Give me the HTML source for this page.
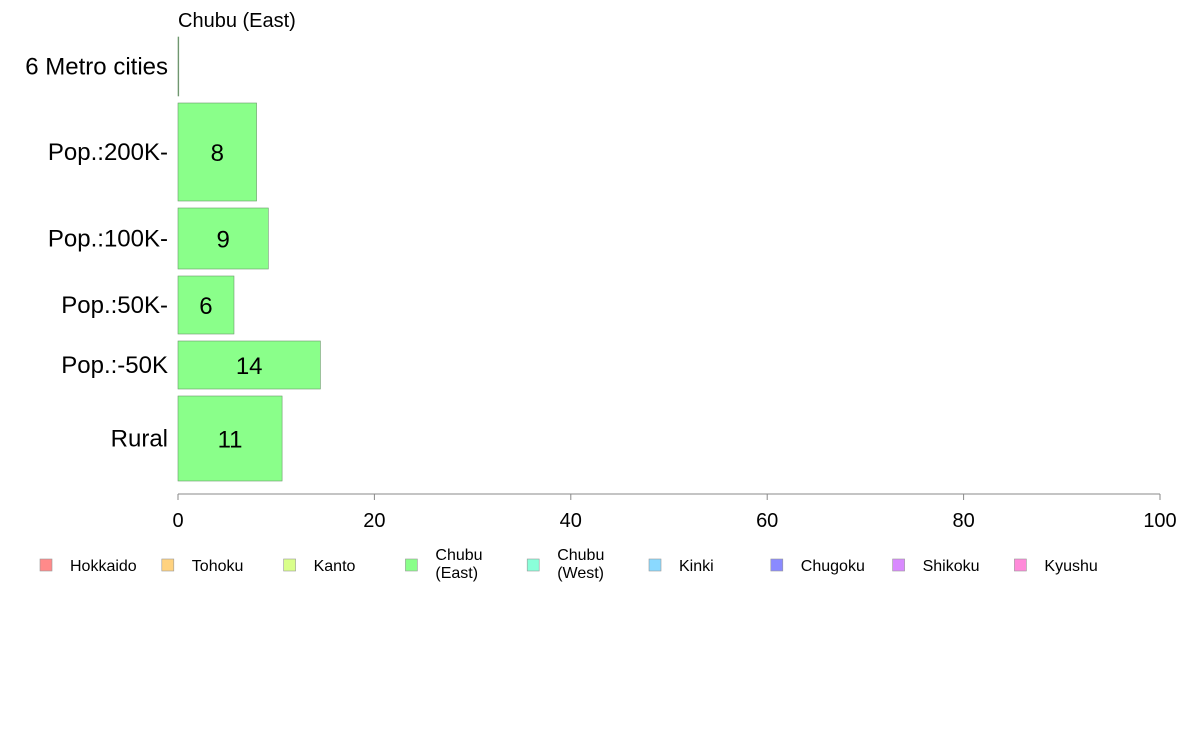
<!DOCTYPE html>
<html><head><meta charset="utf-8"><style>
html,body{margin:0;padding:0;background:#fff;}
svg{display:block;font-family:"Liberation Sans",Arial,sans-serif;}
</style></head><body>
<svg id="chart" width="1188" height="736" viewBox="0 0 1188 736">
<text x="178" y="27" font-size="20" fill="#000">Chubu (East)</text>
<g id="bars"></g>
<g id="axis"></g>
<g id="legend"></g>
</svg>
<script>
const categories = ["6 Metro cities","Pop.:200K-","Pop.:100K-","Pop.:50K-","Pop.:-50K","Rural"];
const values = [0, 8.0, 9.2, 5.7, 14.5, 10.6];
const labels = ["", "8", "9", "6", "14", "11"];
const weights = [59, 98, 61, 58, 48, 85];
const ticks = [0,20,40,60,80,100];
const regions = ["Hokkaido","Tohoku","Kanto","Chubu\n(East)","Chubu\n(West)","Kinki","Chugoku","Shikoku","Kyushu"];
const regionColors = ["#ff8a8a","#ffd27f","#d9ff8a","#8aff8a","#8affd9","#8ad9ff","#8a8aff","#d98aff","#ff8ad9"];

const NS="http://www.w3.org/2000/svg";
function mk(t,a,p){const e=document.createElementNS(NS,t);for(const k in a)e.setAttribute(k,a[k]);p.appendChild(e);return e;}
const x0=178,x1=1160,yTop=37,gap=7;
const xs=v=>x0+(v/100)*(x1-x0);
const bars=document.getElementById('bars');
let y=yTop;
categories.forEach((c,i)=>{
  const h=weights[i];
  const w=xs(values[i])-x0;
  const r=mk('rect',{x:x0,y:y,width:Math.max(w,0.8),height:h,fill:values[i]>0?"#8aff8a":"#888",stroke:"#6a9a6a","stroke-width":0.6},bars);
  
  
  const t=mk('text',{x:168,y:y+h/2+8,"font-size":24,"text-anchor":"end",fill:"#000"},bars);
  t.textContent=c;
  
  
  if(labels[i]){
    const v=mk('text',{x:x0+w/2,y:y+h/2+9,"font-size":24,"text-anchor":"middle",fill:"#000"},bars);
    v.textContent=labels[i];
    
    
  }
  y+=h+gap;
});
const ax=document.getElementById('axis');
const l=mk('line',{x1:x0,x2:x1,y1:494,y2:494,stroke:"#888","stroke-width":1},ax);


ticks.forEach(t=>{
  const tl=mk('line',{x1:xs(t),x2:xs(t),y1:494,y2:500,stroke:"#888"},ax);
  
  
  const tt=mk('text',{x:xs(t),y:527,"font-size":20,"text-anchor":"middle",fill:"#000"},ax);
  tt.textContent=t;
  
  
});
const lg=document.getElementById('legend');
regions.forEach((r,i)=>{
  const bx=40+i*121.8;
  const g=mk('g',{},lg);
  
  
  mk('rect',{x:bx,y:559,width:12,height:12,fill:regionColors[i],stroke:"#999","stroke-width":0.6},g);
  const parts=r.split("\n");
  parts.forEach((p,j)=>{
    const yy=parts.length===1?571:560+j*18;
    const t=mk('text',{x:bx+30,y:yy,"font-size":16,fill:"#000"},g);
    t.textContent=p;
  });
});
</script>
</body></html>
